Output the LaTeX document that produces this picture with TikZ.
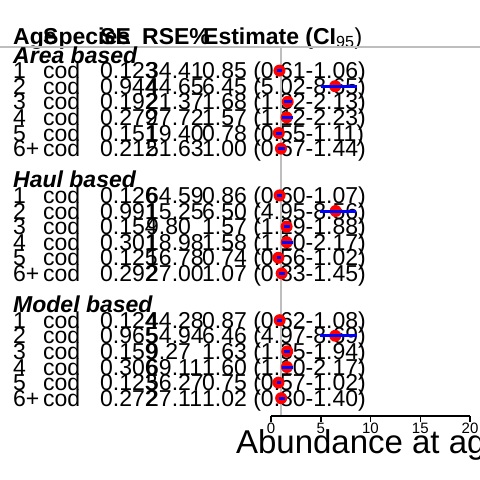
\documentclass[tikz,border=0pt]{standalone}
\usepackage{fontspec}
\setmainfont{Liberation Sans}
\definecolor{refgrey}{RGB}{190,190,190}
\begin{document}
\begin{tikzpicture}[x=1pt,y=-1pt,
    txt/.style={anchor=base west,inner sep=0pt,font=\fontsize{23}{23}\selectfont},
    hdr/.style={anchor=base west,inner sep=0pt,font=\fontsize{23}{23}\selectfont\bfseries},
    grp/.style={anchor=base west,inner sep=0pt,font=\fontsize{23}{23}\selectfont\bfseries\itshape},
    tick/.style={anchor=base,inner sep=0pt,font=\fontsize{15}{15}\selectfont}]
    \fill[white] (0,0) rectangle (480,480);
    \useasboundingbox (0,0) rectangle (480,480);
    % header row
    \node[hdr] (hage) at (13,44) {Age};
    \node[hdr] (hspecies) at (43,44) {Species};
    \node[hdr] (hse) at (100,44) {SE};
    \node[hdr] (hrse) at (142,44) {RSE\%};
    \node[hdr] (hest) at (203,44) {Estimate (CI\textmd{$_{\mathrm{95}}$)}};
    \draw[refgrey, line width=2.5pt] (0,47) -- (480,47);
    % group titles
    \foreach \g/\name in {0/Area based, 8/Haul based, 16/Model based}
        \node[grp] (grp-\g) at (13,{63+15.6*\g}) {\name};
    % table rows
    \foreach \k/\age/\se/\rse/\lab in {
        1/1/0.123/34.41/{0.85 (0.61-1.06)}, 2/2/0.944/44.65/{6.45 (5.02-8.65)},
        3/3/0.192/21.37/{1.68 (1.32-2.13)}, 4/4/0.279/27.72/{1.57 (1.12-2.23)},
        5/5/0.151/19.40/{0.78 (0.55-1.11)}, 6/6+/0.212/51.63/{1.00 (0.67-1.44)},
        9/1/0.126/64.59/{0.86 (0.60-1.07)}, 10/2/0.991/15.25/{6.50 (4.95-8.56)},
        11/3/0.154/9.80/{1.57 (1.29-1.88)}, 12/4/0.301/18.98/{1.58 (1.10-2.17)},
        13/5/0.125/16.78/{0.74 (0.56-1.02)}, 14/6+/0.292/27.00/{1.07 (0.83-1.45)},
        17/1/0.124/44.28/{0.87 (0.62-1.08)}, 18/2/0.965/54.94/{6.46 (4.97-8.69)},
        19/3/0.159/9.27/{1.63 (1.35-1.94)}, 20/4/0.306/69.11/{1.60 (1.10-2.17)},
        21/5/0.123/56.27/{0.75 (0.57-1.02)}, 22/6+/0.272/27.11/{1.02 (0.80-1.40)}}
    {
        \node[txt] (age-\k) at (13,{63+15.6*\k}) {\age};
        \node[txt] (sp-\k) at (43,{63+15.6*\k}) {cod};
        \node[txt] (se-\k) at (100,{63+15.6*\k}) {\se};
        \node[txt] (rse-\k) at (146,{63+15.6*\k}) {\rse};
        \node[txt] (est-\k) at (202,{63+15.6*\k}) {\lab};
    }
    % reference line at 1
    \draw[refgrey, line width=2.5pt] (281,47) -- (281,417);
    % estimates with CI
    \foreach \k/\est/\lo/\hi in {
        1/0.85/0.61/1.06, 2/6.45/5.02/8.65, 3/1.68/1.32/2.13,
        4/1.57/1.12/2.23, 5/0.78/0.55/1.11, 6/1.00/0.67/1.44,
        9/0.86/0.60/1.07, 10/6.50/4.95/8.56, 11/1.57/1.29/1.88,
        12/1.58/1.10/2.17, 13/0.74/0.56/1.02, 14/1.07/0.83/1.45,
        17/0.87/0.62/1.08, 18/6.46/4.97/8.69, 19/1.63/1.35/1.94,
        20/1.60/1.10/2.17, 21/0.75/0.57/1.02, 22/1.02/0.80/1.40}
    {
        \fill[red] ({271+9.95*\est},{55+15.6*\k}) circle [radius=6];
        \draw[blue, line width=3pt] ({271+9.95*\lo},{55+15.6*\k}) -- ({271+9.95*\hi},{55+15.6*\k});
    }
    % x axis
    \draw[line width=1.5pt] (271,416) -- (470,416);
    \foreach \t in {0,5,...,20}
        \draw[line width=1.5pt] ({271+9.95*\t},416) -- ({271+9.95*\t},422) node[tick, yshift=-11pt] (t-\t) {\t};
    \node[anchor=base,inner sep=0pt,font=\fontsize{33}{33}\selectfont] (xlab) at (370,453) {Abundance at age};
\end{tikzpicture}
\end{document}
